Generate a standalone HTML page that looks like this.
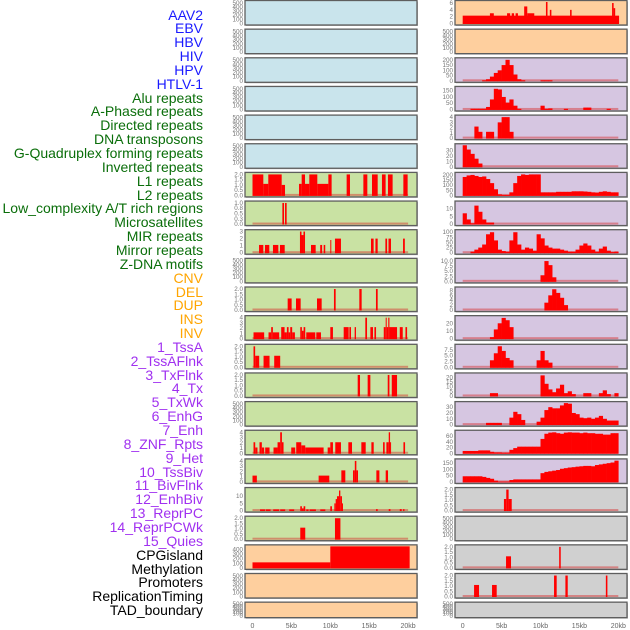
<!DOCTYPE html>
<html><head><meta charset="utf-8">
<style>
html,body{margin:0;padding:0;background:#fff;}
#wrap{position:relative;width:630px;height:630px;overflow:hidden;font-family:"Liberation Sans",sans-serif;}
.lab{position:absolute;right:427px;font-size:14px;line-height:14px;white-space:nowrap;}
</style></head>
<body>
<div id="wrap">
<div id="labels"></div>
<svg id="chart" width="630" height="630" style="position:absolute;left:0;top:0"></svg>
</div>
<script>
const trackNames = ["AAV2","EBV","HBV","HIV","HPV","HTLV-1","Alu repeats","A-Phased repeats","Directed repeats","DNA transposons","G-Quadruplex forming repeats","Inverted repeats","L1 repeats","L2 repeats","Low_complexity A/T rich regions","Microsatellites","MIR repeats","Mirror repeats","Z-DNA motifs","CNV","DEL","DUP","INS","INV","1_TssA","2_TssAFlnk","3_TxFlnk","4_Tx","5_TxWk","6_EnhG","7_Enh","8_ZNF_Rpts","9_Het","10_TssBiv","11_BivFlnk","12_EnhBiv","13_ReprPC","14_ReprPCWk","15_Quies","CPGisland","Methylation","Promoters","ReplicationTiming","TAD_boundary"];
const trackGroups = [6,13,5,15,5];
const groupColors = ["#1a1aff","#0a6e0a","#ffa500","#a030f0","#000000"];
const xTicks = [0,5,10,15,20];
const xTickLabels = ["0","5kb","10kb","15kb","20kb"];

// column 1 data (segments: startKb, endKb, value)
const c1r6 = [[0,1.39,2],[1.39,2.03,1.1],[2.03,3.75,2],[3.75,4.18,1],[5.98,6.32,1.1],[6.32,6.75,2],[6.75,7.3,1.1],[7.3,8.33,2],[8.33,9.75,1.1],[9.75,10.17,2],[12.1,12.53,2],[14.25,14.76,2],[15.36,16.09,2],[16.64,17.11,2],[17.41,18.01,2],[19.39,19.94,2]];
const c1r7 = [[3.84,4.05,1],[4.18,4.39,1]];
const c1r8 = [[0.84,1.39,1.1],[1.6,2.16,1.1],[2.63,3.32,1.1],[3.53,4.14,1.1],[6.1,6.3,3],[6.3,6.55,2.5],[6.55,6.75,3],[7.52,8.12,1.1],[8.7,8.95,1.1],[9.15,9.35,1.1],[10.0,10.1,1.8],[10.6,11.37,2],[15.23,15.57,2],[15.8,16.09,2],[17.08,17.3,2],[17.48,17.8,2],[19.35,19.58,2]];
const c1r10 = [[4.52,5.03,1.1],[5.59,6.19,1.1],[8.29,8.89,1.1],[10.47,10.69,2],[13.73,14.03,2],[15.87,16.09,2]];
const c1r11 = [[0.13,1.5,1.2],[2.06,2.4,1.2],[2.4,2.62,2.2],[2.62,3.43,1.2],[3.69,4.12,2.2],[4.12,4.42,1.2],[4.42,4.64,2.2],[4.64,4.85,1.2],[4.85,5.1,2.2],[5.1,5.45,1.2],[6.14,6.35,2.2],[6.35,6.57,1.5],[6.57,6.78,2.2],[6.91,8.07,1.2],[8.2,8.8,1.2],[10.0,10.34,2.2],[11.72,12.36,2.2],[12.45,12.66,2.2],[13.13,13.3,2.2],[14.5,14.72,4],[15.15,15.49,2.2],[15.67,15.88,2.2],[16.87,17.12,2.2],[17.12,17.25,4],[17.25,17.45,2.2],[17.45,17.6,4],[17.6,18.58,2.2],[18.93,19.31,2.2],[19.66,19.87,2.2]];
const c1r12 = [[0.13,0.34,2],[0.34,0.86,1.1],[1.42,2.19,1.1],[2.79,3.56,1.1]];
const c1r13 = [[13.52,13.82,2],[14.8,15.15,2],[17.38,17.6,2],[17.9,18.58,2]];
const c1r15 = [[0.13,0.35,2.1],[0.35,0.64,1.1],[0.9,1.2,2.1],[1.2,1.5,1.1],[1.63,2.19,1.1],[2.7,3.22,1.1],[3.22,3.56,2.1],[3.56,3.78,4],[3.78,3.99,2.1],[4.98,5.49,1.1],[5.62,6.27,2.1],[6.27,6.78,1.5],[6.78,9.14,1.1],[9.66,10.0,1.1],[10.0,10.34,2.1],[10.64,11.37,2.1],[12.32,12.79,2.1],[13.99,14.55,2.1],[15.28,15.58,2.1],[16.78,16.99,2.1],[17.21,17.51,2.1],[17.51,17.68,4],[17.68,17.81,2.1],[19.4,19.61,2.1]];
const c1r16 = [[0,0.56,1.2],[8.5,9.87,1.2],[11.42,11.93,2.2],[12.92,13.15,2.2],[13.15,13.35,4],[13.35,13.56,2.2],[15.92,16.31,2.2],[17.12,17.42,2.2]];
const c1r17 = [[0.97,1.61,0.8],[1.7,2.32,0.8],[2.66,3.43,0.8],[3.56,4.2,0.8],[4.72,5.36,0.8],[6.14,6.35,3],[6.35,6.57,1.5],[6.57,6.78,3],[6.91,7.21,0.8],[7.34,8.15,0.8],[8.71,9.36,0.8],[10.0,10.21,3],[10.52,10.69,5],[10.69,10.86,8],[10.86,11.12,10],[11.12,11.29,14],[11.29,11.5,10],[11.5,11.63,5],[15.88,16.09,1],[17.51,17.73,1],[18.93,19.18,1],[19.36,19.53,1]];
const c1r18 = [[6.14,6.78,1.1],[10.6,11.3,2]];
const c1r19 = [[0,10.0,120],[10.0,20.2,470]];

// column 2 data
const c2r0 = [[0,20.1,2.3],[3.5,4.0,3],[5.7,6.1,3],[6.3,6.6,3],[6.8,7.1,3],[7.9,8.3,5],[8.3,9.2,3],[10.7,10.9,6.5],[11.2,11.4,4],[13.8,14.0,4],[19.2,19.4,6],[19.4,19.6,4.5]];
// density bins (0.5 kb each, 0..20 kb)
const c2r2 = [0,0,0,0,0,5,15,40,75,100,150,200,150,60,15,5,0,0,0,0,5,5,5,0,0,0,0,0,0,0,0,0,0,0,0,0,0,0,0,0];
const c2r3 = [0,0,5,5,5,5,20,80,165,160,100,55,80,30,5,0,0,0,0,0,30,5,8,0,0,0,5,0,0,0,0,15,15,0,0,0,0,5,0,0];
const c2r4 = [0,0,0,2.2,1.2,0,1.2,1.2,0,3,4,4,1.2,0,0,0,0,0,0,0,0,0,0,0,0,0,0,0,0,0,0,0,0,0,0,0,0,0,0,0];
const c2r5 = [40,32,24,15,6,0,0,0,0,0,0,0,0,0,0,0,0,0,0,0,0,0,0,0,0,0,0,0,0,0,0,0,0,0,0,0,0,0,0,0];
const c2r6 = [180,195,200,190,180,185,160,120,60,10,5,5,30,120,190,205,200,205,205,205,30,30,30,30,35,35,35,35,40,40,40,38,35,30,28,35,40,35,30,30];
const c2r7 = [7,3,0.5,12,8,3,1,1,0,0,0,0,0,0,0,0,0,0,0,0,0,0,0,0,0,0,0,0,0,0,0,0,0,0,0,0,0,0,0,0];
const c2r8 = [0,0,5,15,25,40,90,100,60,15,8,5,60,100,40,15,25,20,10,90,70,35,25,20,20,15,10,5,5,15,35,45,35,15,5,20,30,10,3,5];
const c2r9 = [0,0,0,0,0,0,0,0,0,0,0,0,0,0,0,0,0,0,0,0,3,10,8,2,0,0,0,0,0,0,0,0,0,0,0,0,0,0,0,0];
const c2r10 = [0,0,0,0,0,0,0,0,0,0,0,0,0,0,0,0,0,0,0,0,0,3,6,8.5,7,5,2,0,0,0,0,0,0,0,0,0,0,0,0,0];
const c2r11 = [0,0,0,0,0,0,0,2,12,20,27,24,15,0,0,0,0,0,0,0,0,0,0,0,0,0,0,0,0,0,0,0,0,0,0,0,0,0,0,0];
const c2r12 = [0,0,0,0,0,0,0,3,6,9,7,4,3,0,0,0,0,0,0,3,7,3,2,0,0,0,0,0,0,0,0,0,0,0,0,0,0,0,0,0];
const c2r13 = [0,0,0,0,0,0,0,3,3,0,0,0,0,0,0,0,0,0,0,0,22,13,7,4,8,12,3,5,2,0,0,3,3,0,0,3,6,2,0,3];
const c2r14 = [0,0,0,0,0,0,3,3,3,3,0,0,12,22,18,8,0,0,0,5,12,25,30,28,28,33,37,36,20,18,12,11,12,10,12,15,10,7,7,7];
const c2r15 = [8,8,8,8,10,10,10,5,3,3,2,2,12,18,23,23,23,23,23,23,50,68,72,73,70,68,72,73,72,72,70,72,70,70,68,68,65,65,70,70];
const c2r16 = [45,45,45,45,45,40,32,25,10,3,3,3,15,20,20,20,20,20,20,20,70,80,85,90,95,105,110,115,118,122,125,128,128,125,135,140,145,150,155,170];
const c2r17 = [[5.3,5.6,1.1],[5.6,5.9,2],[5.9,6.3,1.1]];
const c2r19 = [[5.57,6.21,1.1],[12.4,12.6,2]];
const c2r20 = [[1.46,2.1,1.1],[3.77,4.37,1.1],[11.74,12.08,2],[13.2,13.5,2],[18.4,18.6,2]];

const T500 = [0,100,200,300,400,500];
const T2 = [0,0.5,1,1.5,2];
const T4 = [0,1,2,3,4];
const BLUE="#c9e4ec", GREEN="#c9e2a3", ORANGE="#fecf9e", LAV="#d6c6e1", GREY="#d0d0d0";
function tf(v){ return v; }
const col1 = [
 [BLUE,T500,520,null,null],[BLUE,T500,520,null,null],[BLUE,T500,520,null,null],[BLUE,T500,520,null,null],[BLUE,T500,520,null,null],[BLUE,T500,520,null,null],
 [GREEN,T2,2.05,"seg",c1r6],[GREEN,[0,0.25,0.5,0.75,1],1.02,"seg",c1r7],[GREEN,[0,1,2,3],3.05,"seg",c1r8],[GREEN,T500,520,null,null],
 [GREEN,T2,2.05,"seg",c1r10],[GREEN,T4,4.1,"seg",c1r11],[GREEN,T2,2.05,"seg",c1r12],[GREEN,T2,2.05,"seg",c1r13],[GREEN,T500,520,null,null],
 [GREEN,T4,4.1,"seg",c1r15],[GREEN,T4,4.1,"seg",c1r16],[GREEN,[0,5,10],15,"seg",c1r17],[GREEN,T2,2.05,"seg",c1r18],
 [ORANGE,[0,100,200,300,400],470,"seg",c1r19],[ORANGE,T500,520,null,null],[ORANGE,T500,520,null,null]
];
const col2 = [
 [ORANGE,[0,2,4,6],6.3,"seg",c2r0],[ORANGE,T500,520,null,null],
 [LAV,[0,50,100,150,200],205,"bin",c2r2],[LAV,[0,50,100,150],172,"bin",c2r3],[LAV,T4,4.1,"bin",c2r4],
 [LAV,[0,10,20,30],40,"bin",c2r5],[LAV,[0,50,100,150,200],210,"bin",c2r6],[LAV,[0,5,10],14,"bin",c2r7],
 [LAV,[0,25,50,75,100],105,"bin",c2r8],[LAV,[0,2.5,5,7.5,10],10.6,"bin",c2r9],[LAV,[0,2,4,6,8],8.8,"bin",c2r10],
 [LAV,[0,10,20],28,"bin",c2r11],[LAV,[0,2.5,5,7.5],9.2,"bin",c2r12],[LAV,[0,5,10,15,20],23,"bin",c2r13],
 [LAV,[0,10,20,30],37,"bin",c2r14],[LAV,[0,20,40,60],75,"bin",c2r15],[LAV,[0,50,100,150],172,"bin",c2r16],
 [GREY,T2,2.05,"seg",c2r17],[GREY,T500,520,null,null],[GREY,T2,2.05,"seg",c2r19],[GREY,T2,2.05,"seg",c2r20],[GREY,T500,520,null,null]
];

// labels
const labDiv = document.getElementById('labels');
let gi=0, cnt=0;
trackNames.forEach((n,i)=>{
  while(cnt>=trackGroups[gi]){cnt-=trackGroups[gi];gi++;}
  cnt++;
  const d=document.createElement('div');
  d.className='lab';
  d.textContent=n;
  d.style.top=(15+i*13.85-7.5)+'px';
  d.style.color=groupColors[gi];
  
  
  labDiv.appendChild(d);
});

const NS="http://www.w3.org/2000/svg";
const svg=document.getElementById('chart');
function mk(tag,attrs,parent){const e=document.createElementNS(NS,tag);for(const k in attrs)e.setAttribute(k,attrs[k]);(parent||svg).appendChild(e);return e;}
const PX_PER_KB=7.78;
function fmt(v,ticks){const dec=ticks.some(t=>Math.round(t*100)%100!==0)?(ticks.some(t=>Math.round(t*100)%50!==0)?2:1):0;
  if(ticks.some(t=>Math.round(t*10)%10!==0&&Math.round(t*100)%10===0)&&dec===2) return v.toFixed(1);
  return v.toFixed(dec);}
function drawCol(cfg,left,x0,colName){
  cfg.forEach((p,i)=>{
    const top=0.5+28.65*i, h=(i===21)?15.5:24.5, w=172;
    const g=mk('g',{});
    
    
    mk('rect',{x:left+1,y:top+1,width:w,height:h,fill:'#bbbbbb'},g);
    mk('rect',{x:left,y:top,width:w,height:h,fill:p[0]},g);
    const yB=top+h-1.5, yT=top+1.5, max=p[2];
    const ys=v=>yB-(v/max)*(yB-yT);
    const xs=k=>x0+k*PX_PER_KB;
    // ticks
    p[1].forEach(t=>{
      const tx=mk('text',{x:left-2,y:ys(t)+2,'text-anchor':'end','font-size':6.3,fill:'#777'},g);
      tx.textContent=fmt(t,p[1]);
      
      
    });
    if(p[3]){
      const base=mk('rect',{x:xs(0),y:yB-1.5,width:xs(20)-xs(0),height:2,fill:'rgba(215,40,40,0.45)'},g);
      
      
    }
    if(p[3]==='seg'){
      p[4].forEach(s=>{
        const v=Math.min(s[2],max);
        const r=mk('rect',{x:xs(s[0]),y:ys(v),width:Math.max(1,xs(s[1])-xs(s[0])),height:yB-ys(v)+0.5,fill:'#ff0000'},g);
        
        
      });
    } else if(p[3]==='bin'){
      p[4].forEach((v,k)=>{
        if(v<=0) return;
        const vv=Math.min(v,max);
        const r=mk('rect',{x:xs(k*0.5),y:ys(vv),width:xs(0.5)-xs(0)+0.3,height:yB-ys(vv)+0.5,fill:'#ff0000'},g);
        
        
      });
    }
    mk('rect',{x:left,y:top,width:w,height:h,fill:'none',stroke:'#5e5e5e','stroke-width':1.3},g);
  });
  xTicks.forEach((t,k)=>{
    const tx=mk('text',{x:x0+t*PX_PER_KB,y:628,'text-anchor':'middle','font-size':7,fill:'#666'});
    tx.textContent=xTickLabels[k];
    
    
  });
}
drawCol(col1,245,252.5,'left');
drawCol(col2,455,462.7,'right');
</script>
</body></html>
